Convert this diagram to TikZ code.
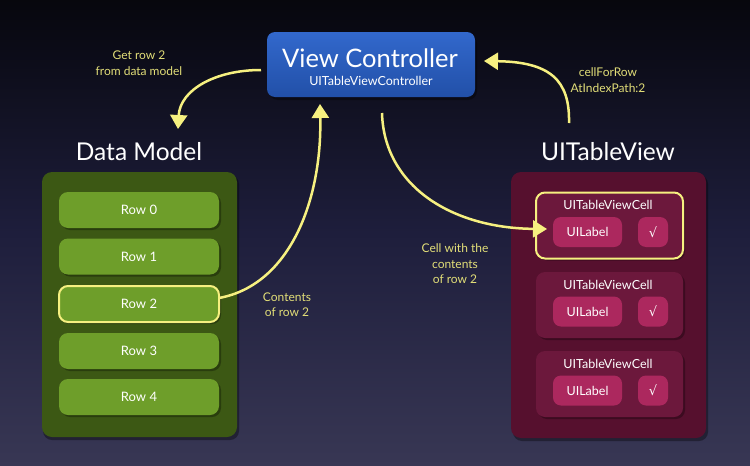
\documentclass[tikz,border=0pt]{standalone}
\usepackage{fontspec}
\setmainfont{Lato}
\newfontfamily\symfont{DejaVu Sans}
\usetikzlibrary{arrows.meta}
\definecolor{bgbot}{RGB}{82,80,108}
\definecolor{bgmid}{RGB}{30,30,60}
\definecolor{vctop}{RGB}{50,104,204}
\definecolor{vcbot}{RGB}{34,80,168}
\definecolor{dmdark}{RGB}{60,88,20}
\definecolor{dmrow}{RGB}{110,158,42}
\definecolor{tvdark}{RGB}{86,16,46}
\definecolor{tvcell}{RGB}{108,24,60}
\definecolor{tvlab}{RGB}{172,40,94}
\definecolor{yline}{RGB}{246,240,128}
\definecolor{ytext}{RGB}{226,222,120}
\pgfdeclareverticalshading{bgshade}{100bp}{color(0bp)=(bgbot); color(50bp)=(bgmid); color(82bp)=(black); color(100bp)=(black)}
\tikzset{
  px/.style={x=1pt,y=-1pt},
  shadowbox/.style={fill=black,opacity=0.35,rounded corners=9pt},
  vcbox/.style={rounded corners=8pt,top color=vctop,bottom color=vcbot,draw=none},
  dmbox/.style={rounded corners=10pt,fill=dmdark},
  rowbox/.style={rounded corners=9pt,fill=dmrow,minimum width=160pt,minimum height=36pt,text=white,font=\fontsize{13}{15}\selectfont,inner sep=0pt},
  selbox/.style={draw=yline,line width=2pt},
  tvbox/.style={rounded corners=10pt,fill=tvdark},
  cellbox/.style={rounded corners=9pt,fill=tvcell,minimum width=147pt,minimum height=66pt,inner sep=0pt},
  labbox/.style={rounded corners=8pt,fill=tvlab,minimum width=69pt,minimum height=30pt,text=white,font=\fontsize{12.5}{15}\selectfont,inner sep=0pt},
  chkbox/.style={rounded corners=8pt,fill=tvlab,minimum width=30pt,minimum height=30pt,text=white,font=\symfont\fontsize{13}{15}\selectfont,inner sep=0pt},
  title/.style={text=white,font=\fontsize{24.5}{28}\selectfont},
  celltitle/.style={text=white,font=\fontsize{12.5}{15}\selectfont},
  note/.style={text=ytext,font=\fontsize{12}{15.5}\selectfont,align=center},
  flow/.style={draw=yline,line width=2.5pt,-{Triangle[width=17pt,length=14pt]}},
}
\begin{document}
\begin{tikzpicture}[px]
\useasboundingbox (0,0) rectangle (750,466);
\shade[shading=bgshade] (0,0) rectangle (750,466);

% View controller
\fill[shadowbox] (269,35) rectangle (477,100);
\node[vcbox,minimum width=208pt,minimum height=65pt,inner sep=0pt] (vc) at (371,64.5) {};
\node[text=white,font=\fontsize{25.5}{29}\selectfont] (vct) at (370,58) {View Controller};
\node[text=white,font=\fontsize{12.5}{15}\selectfont] (vcs) at (371,80.5) {UITableViewController};

% Data model
\node[title] (dmt) at (139,152) {Data Model};
\fill[shadowbox] (43,175) rectangle (239,440);
\node[dmbox,minimum width=195pt,minimum height=265pt,inner sep=0pt] (dm) at (139.5,304.5) {};
\foreach \i/\y in {0/210,1/256.5,3/351,4/397}{
  \fill[shadowbox,opacity=0.3] (61,\y-16) rectangle (221,\y+20);
  \node[rowbox] (row\i) at (139,\y) {Row \i};
}
\fill[shadowbox,opacity=0.3] (61,288) rectangle (221,324);
\node[rowbox,selbox] (row2) at (139,304) {Row 2};

% Table view
\node[title] (tvt) at (608,152) {UITableView};
\fill[shadowbox] (513,175) rectangle (708,441);
\node[tvbox,minimum width=195pt,minimum height=266pt,inner sep=0pt] (tv) at (608.5,305) {};
\foreach \i/\y in {1/225.5,2/305,3/384}{
  \fill[shadowbox,opacity=0.3] (538,\y-31) rectangle (685,\y+35);
  \ifnum\i=1
    \node[cellbox,selbox] (cell\i) at (609.5,\y) {};
  \else
    \node[cellbox] (cell\i) at (609.5,\y) {};
  \fi
  \node[celltitle] (ct\i) at (608,\y-20.5) {UITableViewCell};
  \node[labbox] (lab\i) at (587.5,\y+6.5) {UILabel};
  \node[chkbox] (chk\i) at (653,\y+6.5) {√};
}

% Notes
\node[note] (n1) at (139,63) {Get row 2\\from data model};
\node[note] (n2) at (287,304.5) {Contents\\of row 2};
\node[note] (n3) at (608,80) {cellForRow\\AtIndexPath:2};
\node[note] (n4) at (455,264) {Cell with the\\contents\\of row 2};

% Connectors
\coordinate (a1s) at (261,70);
\coordinate (a1e) at (178,129);
\coordinate (a2s) at (219,298);
\coordinate (a2e) at (320,104);
\coordinate (a3s) at (569,123);
\coordinate (a3e) at (484,61);
\coordinate (a4s) at (382,113);
\coordinate (a4e) at (547,229);
\draw[flow] (a1s) .. controls (215,70) and (180,90) .. (a1e);
\draw[flow] (a2s) .. controls (290,285) and (322,200) .. (a2e);
\draw[flow] (a3s) .. controls (570,80) and (550,62) .. (a3e);
\draw[flow] (a4s) .. controls (384,185) and (450,228) .. (a4e);
\end{tikzpicture}
\end{document}
